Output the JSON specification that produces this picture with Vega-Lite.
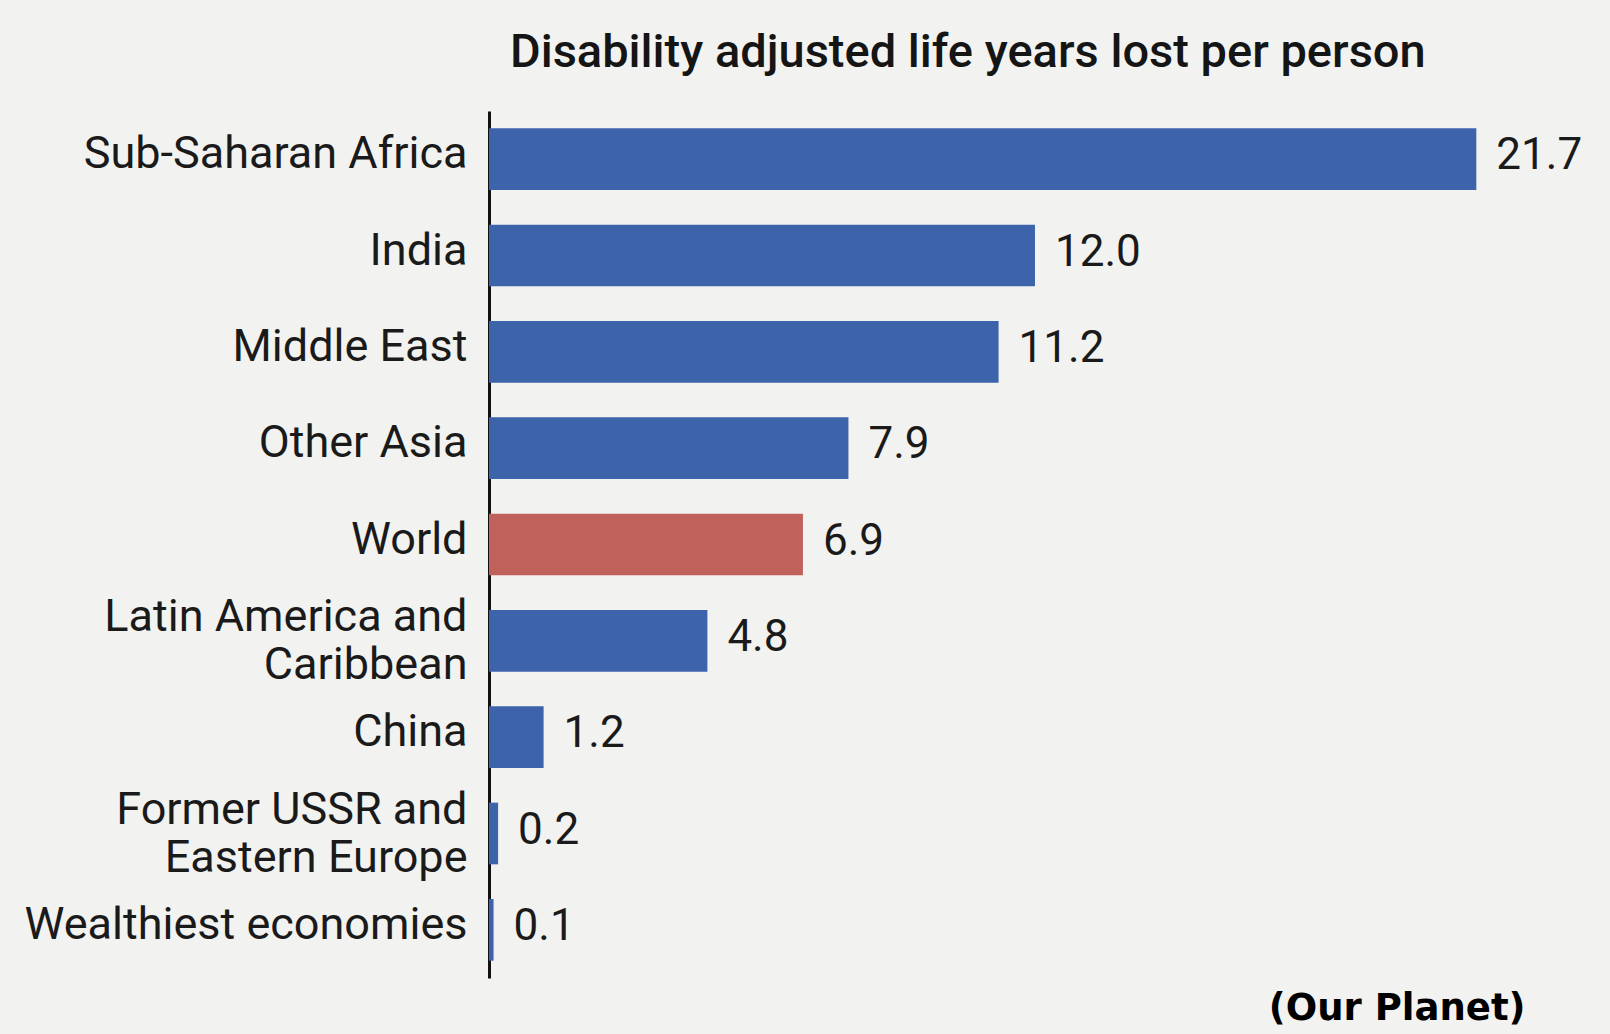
{
  "$schema": "https://vega.github.io/schema/vega-lite/v6.json",
  "autosize": "none",
  "padding": {"left": 489, "top": 111, "right": 85, "bottom": 56},
  "width": 1036,
  "height": 867,
  "background": "#f2f2f0",
  "title": {
    "text": "Disability adjusted life years lost per person",
    "anchor": "start",
    "frame": "group",
    "dx": 21,
    "offset": 34,
    "font": "Roboto",
    "fontSize": 47,
    "fontWeight": 500,
    "color": "#151515"
  },
  "config": {"view": {"stroke": null}},
  "data": {
    "values": [
      {"region": "Sub-Saharan Africa", "value": 21.7, "group": "region"},
      {"region": "India", "value": 12.0, "group": "region"},
      {"region": "Middle East", "value": 11.2, "group": "region"},
      {"region": "Other Asia", "value": 7.9, "group": "region"},
      {"region": "World", "value": 6.9, "group": "world"},
      {"region": "Latin America and|Caribbean", "value": 4.8, "group": "region"},
      {"region": "China", "value": 1.2, "group": "region"},
      {"region": "Former USSR and|Eastern Europe", "value": 0.2, "group": "region"},
      {"region": "Wealthiest economies", "value": 0.1, "group": "region"}
    ]
  },
  "encoding": {
    "y": {
      "field": "region",
      "type": "nominal",
      "sort": null,
      "scale": {"paddingInner": 0.36, "paddingOuter": 0.18},
      "axis": {
        "title": null,
        "ticks": false,
        "domain": true,
        "domainColor": "#111111",
        "domainWidth": 3,
        "labelFont": "Roboto",
        "labelFontSize": 45,
        "labelColor": "#1a1a1a",
        "labelPadding": 22,
        "labelLimit": 600,
        "labelLineHeight": 48,
        "labelOffset": {"condition": {"test": "indexof(datum.value, '|') >= 0", "value": -24}, "value": -5},
        "labelExpr": "split(datum.label, '|')"
      }
    },
    "x": {
      "field": "value",
      "type": "quantitative",
      "scale": {"domain": [0, 22.77], "nice": false},
      "axis": {
        "title": "(Our Planet)",
        "titleAnchor": "end",
        "titleFont": "DejaVu Sans",
        "titleFontWeight": "bold",
        "titleFontSize": 37,
        "titleColor": "#000000",
        "titlePadding": 12,
        "labels": false,
        "ticks": false,
        "domain": false,
        "grid": false
      }
    }
  },
  "layer": [
    {
      "mark": {"type": "bar"},
      "encoding": {
        "color": {
          "field": "group",
          "type": "nominal",
          "scale": {"domain": ["region", "world"], "range": ["#3d63ab", "#c1615b"]},
          "legend": null
        }
      }
    },
    {
      "mark": {"type": "text", "align": "left", "baseline": "middle", "dx": 20, "dy": -3, "font": "Roboto", "fontSize": 44, "color": "#1a1a1a"},
      "encoding": {
        "text": {"field": "value", "type": "quantitative", "format": ".1f"}
      }
    }
  ]
}
